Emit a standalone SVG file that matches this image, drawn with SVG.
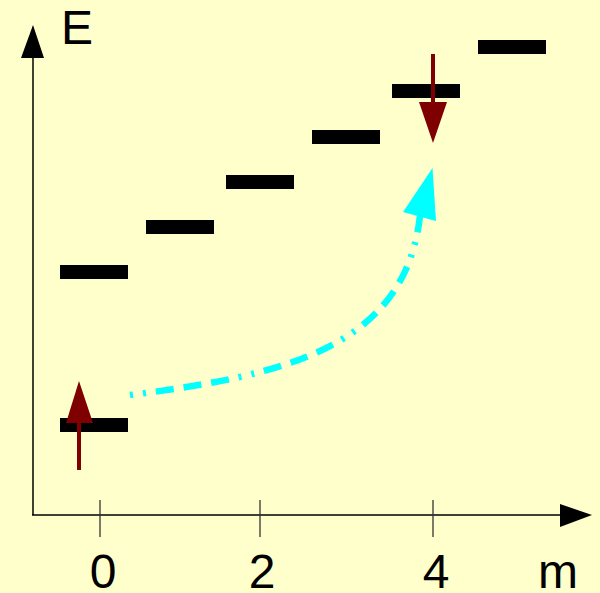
<svg xmlns="http://www.w3.org/2000/svg" width="600" height="593" viewBox="0 0 600 593">
<style>
.lvl{fill:#000}
.ax{stroke:#000;stroke-width:1.5;fill:none}
.tk{stroke:#333;stroke-width:1.3}
.lbl{font-family:"Liberation Sans",Arial,sans-serif;font-size:48px;fill:#000}
.spin{stroke:#7f0000;stroke-width:4}
</style>
<rect width="600" height="593" fill="#ffffcc"/>
<g id="axes">
<line class="ax" x1="33" y1="515" x2="33" y2="55"/>
<polygon points="33,25 21,58 44,58" fill="#000"/>
<line class="ax" x1="32" y1="515" x2="562" y2="515"/>
<polygon points="592,515 560,504 560,527" fill="#000"/>
<line class="tk" x1="100" y1="500" x2="100" y2="537"/>
<line class="tk" x1="260" y1="500" x2="260" y2="537"/>
<line class="tk" x1="433" y1="500" x2="433" y2="537"/>
<text class="lbl" x="61" y="44">E</text>
<text class="lbl" x="103" y="588" text-anchor="middle">0</text>
<text class="lbl" x="262" y="588" text-anchor="middle">2</text>
<text class="lbl" x="436" y="588" text-anchor="middle">4</text>
<text class="lbl" x="558" y="588" text-anchor="middle">m</text>
</g>
<g id="levels">
<rect id="l0a" class="lvl" x="60" y="418" width="68" height="14"/>
<rect id="l0b" class="lvl" x="60" y="265" width="68" height="14"/>
<rect id="l1" class="lvl" x="146" y="220" width="68" height="14"/>
<rect id="l2" class="lvl" x="226" y="175" width="68" height="14"/>
<rect id="l3" class="lvl" x="312" y="130" width="68" height="14"/>
<rect id="l4" class="lvl" x="392" y="84" width="68" height="14"/>
<rect id="l5" class="lvl" x="478" y="40" width="68" height="14"/>
</g>
<g id="spins">
<g id="spin-up">
<line class="spin" x1="79" y1="470" x2="79" y2="415"/>
<polygon points="79,381 66,423 93,423" fill="#7f0000"/>
</g>
<g id="spin-down">
<line class="spin" x1="433" y1="54" x2="433" y2="108"/>
<polygon points="433,143 419,102 447,102" fill="#7f0000"/>
</g>
</g>
<g id="connectors">
<path d="M130,395 C290,375 405,345 420,216" fill="none" stroke="#00ffff" stroke-width="6.5" stroke-dasharray="3 10 3 10 18 10 18 10 18 10"/>
<polygon points="432.5,168 403,212 436,221" fill="#00ffff"/>
</g>
</svg>
